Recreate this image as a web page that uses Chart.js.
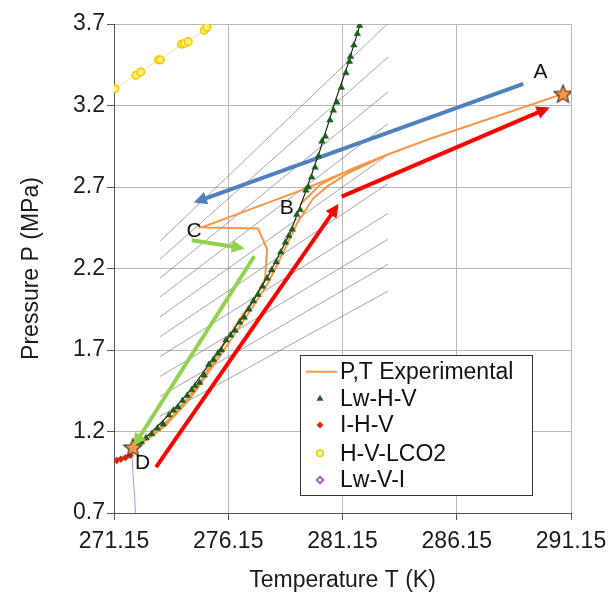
<!DOCTYPE html>
<html>
<head>
<meta charset="utf-8">
<script src="https://cdn.jsdelivr.net/npm/chart.js@4.4.1/dist/chart.umd.min.js"></script>
<style>
html, body { margin: 0; padding: 0; background: #fff; }
</style>
</head>
<body>
<canvas id="mycanvas" width="609" height="594"></canvas>
<script>
// axis ranges
var tMin = 271.15, tMax = 291.15, tStep = 5;
var pMin = 0.7, pMax = 3.7, pStep = 0.5;

// P,T experimental path (cooling A -> C -> D, heating D -> B -> A)
var expT = [290.80, 284.98, 283.10, 279.42, 275.00, 277.45, 277.85, 277.76, 277.45, 276.66, 275.79, 274.91, 274.04, 273.16, 272.51, 271.98,
            272.60, 273.40, 274.48, 275.88, 277.10, 277.89, 278.41, 279.16, 279.86, 280.47, 281.35, 283.10, 284.98, 291.15, null,
            279.29, 280.17, 281.48, 283.10];
var expP = [3.271, 2.996, 2.898, 2.684, 2.452, 2.446, 2.318, 2.134, 2.049, 1.890, 1.695, 1.499, 1.346, 1.218, 1.144, 1.102,
            1.150, 1.235, 1.401, 1.682, 1.939, 2.110, 2.257, 2.476, 2.629, 2.702, 2.782, 2.898, 2.996, 3.288, null,
            2.592, 2.714, 2.806, 2.898];

// Lw-H-V measured points
var lwhvT = [272.10, 272.35, 272.55, 272.80, 273.05, 273.30, 273.55, 273.75, 273.95, 274.15, 274.35, 274.55, 274.70, 274.90,
             275.10, 275.30, 275.50, 275.70, 275.85, 276.05, 276.25, 276.45, 276.65, 276.85, 277.05, 277.25, 277.45, 277.65,
             277.85, 278.05, 278.25, 278.45, 278.65, 278.80, 278.95, 279.15, 279.30, 279.55, 279.65, 279.80, 279.95, 280.10,
             280.25, 280.40, 280.60, 280.75, 280.90, 281.10, 281.30, 281.45, 281.50, 281.65, 281.80, 281.90];
var lwhvP = [1.115, 1.135, 1.160, 1.185, 1.220, 1.245, 1.300, 1.330, 1.350, 1.390, 1.420, 1.455, 1.480, 1.500,
             1.545, 1.610, 1.640, 1.680, 1.700, 1.760, 1.790, 1.820, 1.870, 1.900, 1.950, 2.000, 2.040, 2.090,
             2.140, 2.190, 2.240, 2.300, 2.360, 2.400, 2.440, 2.530, 2.560, 2.680, 2.700, 2.760, 2.820, 2.890,
             2.980, 3.010, 3.110, 3.170, 3.220, 3.310, 3.400, 3.470, 3.500, 3.570, 3.640, 3.690];

// Lw-H-V equilibrium curve
var curveT = [271.98, 272.73, 273.60, 274.48, 275.35, 276.23, 277.10, 277.98, 278.85, 279.51, 280.17, 280.82, 281.39, 281.92];
var curveP = [1.102, 1.187, 1.310, 1.450, 1.621, 1.792, 1.969, 2.177, 2.415, 2.660, 2.928, 3.222, 3.454, 3.698];

// I-H-V
var ihvT = [271.27, 271.45, 271.65, 271.86, 271.98];
var ihvP = [1.022, 1.030, 1.040, 1.053, 1.102];

// H-V-LCO2
var lco2T = [271.19, 272.11, 272.32, 273.09, 273.18, 274.11, 274.23, 274.40, 275.10, 275.21, 275.48];
var lco2P = [3.303, 3.385, 3.405, 3.480, 3.480, 3.576, 3.582, 3.592, 3.662, 3.680, 3.720];

// Lw-V-I
var lwviT = [271.92, 271.98, 272.05, 272.09];
var lwviP = [1.085, 0.950, 0.800, 0.700];

// isochore lines (start / end)
var isoT1 = [273.16, 273.16, 273.16, 273.16, 273.16, 273.16, 273.16, 273.16, 273.16, 273.16];
var isoP1 = [2.367, 2.257, 2.141, 2.025, 1.903, 1.781, 1.659, 1.537, 1.415, 1.293];
var isoT2 = [283.14, 283.14, 283.14, 283.14, 283.14, 283.14, 283.14, 283.14, 283.14, 283.14];
var isoP2 = [3.704, 3.497, 3.283, 3.088, 2.898, 2.721, 2.538, 2.379, 2.226, 2.061];

// arrows [T start, T end], [P start, P end]
var blueT = [289.06, 274.77], blueP = [3.333, 2.611];
var red1T = [272.99, 280.90], red1P = [0.982, 2.580];
var red2T = [281.11, 290.09], red2P = [2.641, 3.181];
var green1T = [274.55, 276.74], green1P = [2.373, 2.326];
var green2T = [277.29, 272.07], green2P = [2.275, 1.123];

// stars A and D
var starT = [290.80, 271.98];
var starP = [3.271, 1.102];

// point labels
var labelText = ['A', 'B', 'C', 'D'];
var labelT = [289.82, 278.71, 274.65, 272.40];
var labelP = [3.402, 2.570, 2.428, 1.004];

var legendNames = ['P,T Experimental', 'Lw-H-V', 'I-H-V', 'H-V-LCO2', 'Lw-V-I'];

function pts(xs, ys) {
    var out = [];
    for (var i = 0; i < xs.length; i++) out.push({ x: xs[i], y: ys[i] });
    return out;
}

function isoPts() {
    var out = [];
    for (var i = 0; i < isoT1.length; i++) {
        out.push({ x: isoT1[i], y: isoP1[i] });
        out.push({ x: isoT2[i], y: isoP2[i] });
        out.push({ x: isoT2[i], y: null });
    }
    return out;
}

// filled five point star used as point style
var starImg = document.createElement('canvas');
starImg.width = 21; starImg.height = 21;
(function () {
    var c = starImg.getContext('2d');
    c.beginPath();
    for (var i = 0; i < 10; i++) {
        var r = i % 2 === 0 ? 9.5 : 4.2;
        var a = -Math.PI / 2 + i * Math.PI / 5;
        var x = 10.5 + r * Math.cos(a), y = 11.2 + r * Math.sin(a);
        if (i === 0) c.moveTo(x, y); else c.lineTo(x, y);
    }
    c.closePath();
    c.fillStyle = '#F79646';
    c.fill();
    c.strokeStyle = '#3a2a1a';
    c.lineWidth = 1.1;
    c.stroke();
})();

function arrowSet(xs, ys, color, width) {
    return {
        data: pts(xs, ys), showLine: true, borderColor: color, borderWidth: width,
        pointRadius: 0, arrow: true, order: 3
    };
}

var arrowHeads = {
    id: 'arrowHeads',
    afterDatasetsDraw: function (chart) {
        var ctx = chart.ctx;
        chart.data.datasets.forEach(function (ds, i) {
            if (!ds.arrow) return;
            var el = chart.getDatasetMeta(i).data;
            var p1 = el[el.length - 2], p2 = el[el.length - 1];
            var ang = Math.atan2(p2.y - p1.y, p2.x - p1.x);
            var cx = Math.cos(ang), sy = Math.sin(ang);
            var tipX = p2.x + 3 * cx, tipY = p2.y + 3 * sy;
            var len = 13, w = 6.5;
            ctx.save();
            ctx.fillStyle = ds.borderColor;
            ctx.beginPath();
            ctx.moveTo(tipX, tipY);
            ctx.lineTo(tipX - len * cx + w * sy, tipY - len * sy - w * cx);
            ctx.lineTo(tipX - len * cx - w * sy, tipY - len * sy + w * cx);
            ctx.closePath();
            ctx.fill();
            ctx.restore();
        });
    }
};

var letters = {
    id: 'letters',
    afterDatasetsDraw: function (chart) {
        var ctx = chart.ctx, xs = chart.scales.x, ys = chart.scales.y;
        ctx.save();
        ctx.font = '21px "Liberation Sans", Arial, sans-serif';
        ctx.fillStyle = '#111';
        ctx.textAlign = 'center';
        ctx.textBaseline = 'middle';
        for (var i = 0; i < labelText.length; i++) {
            ctx.fillText(labelText[i], xs.getPixelForValue(labelT[i]), ys.getPixelForValue(labelP[i]));
        }
        ctx.restore();
    }
};

var boxLegend = {
    id: 'boxLegend',
    afterDraw: function (chart) {
        var ctx = chart.ctx;
        var bx = 300.5, by = 355.5, bw = 232, bh = 140;
        ctx.save();
        ctx.fillStyle = '#fff';
        ctx.fillRect(bx, by, bw, bh);
        ctx.strokeStyle = '#333';
        ctx.lineWidth = 1;
        ctx.strokeRect(bx, by, bw, bh);
        var rows = [371.7, 398.3, 425, 453.3, 480];
        ctx.font = '23px "Liberation Sans", Arial, sans-serif';
        ctx.textBaseline = 'middle';
        ctx.textAlign = 'left';
        for (var i = 0; i < legendNames.length; i++) {
            var y = rows[i];
            ctx.fillStyle = '#111';
            ctx.fillText(legendNames[i], 340, y + 1);
        }
        // markers
        ctx.strokeStyle = '#F79646'; ctx.lineWidth = 2;
        ctx.beginPath(); ctx.moveTo(306, rows[0]); ctx.lineTo(337, rows[0]); ctx.stroke();
        ctx.fillStyle = '#1d5e1d';
        ctx.beginPath(); ctx.moveTo(320, rows[1] - 3.5); ctx.lineTo(323.5, rows[1] + 2.5); ctx.lineTo(316.5, rows[1] + 2.5); ctx.closePath(); ctx.fill();
        ctx.fillStyle = '#d42a10';
        ctx.beginPath(); ctx.moveTo(320, rows[2] - 3.5); ctx.lineTo(323.5, rows[2]); ctx.lineTo(320, rows[2] + 3.5); ctx.lineTo(316.5, rows[2]); ctx.closePath(); ctx.fill();
        ctx.fillStyle = '#fff6b0'; ctx.strokeStyle = '#f2cc00'; ctx.lineWidth = 1.5;
        ctx.beginPath(); ctx.arc(320, rows[3], 3.3, 0, Math.PI * 2); ctx.fill(); ctx.stroke();
        ctx.fillStyle = '#e4d0f4'; ctx.strokeStyle = '#9a4cc8'; ctx.lineWidth = 1.5;
        ctx.beginPath(); ctx.moveTo(320, rows[4] - 3.5); ctx.lineTo(323.5, rows[4]); ctx.lineTo(320, rows[4] + 3.5); ctx.lineTo(316.5, rows[4]); ctx.closePath(); ctx.fill(); ctx.stroke();
        ctx.restore();
    }
};

Chart.defaults.font.family = '"Liberation Sans", Arial, sans-serif';
Chart.defaults.color = '#1a1a1a';

var ctx = document.getElementById('mycanvas');
var mycanvas = new Chart(ctx, {
    type: 'scatter',
    data: {
        datasets: [
            { label: 'starPoints', data: pts(starT, starP), pointStyle: starImg, pointRadius: 10, order: 0 },
            { label: 'Lw-H-V', data: pts(lwhvT, lwhvP), pointStyle: 'triangle', pointRadius: 3.8,
              backgroundColor: '#1d5e1d', borderColor: '#1d5e1d', borderWidth: 0.5, order: 1 },
            { label: 'Lw-H-V curve', data: pts(curveT, curveP), showLine: true, borderColor: '#111', borderWidth: 1.1,
              pointRadius: 0, order: 2 },
            { label: 'I-H-V', data: pts(ihvT, ihvP), showLine: true, borderColor: '#d42a10', borderWidth: 1.2,
              pointStyle: 'rectRot', pointRadius: [2.8, 2.8, 2.8, 2.8, 0], backgroundColor: '#d42a10', order: 2 },
            { label: 'Lw-V-I', data: pts(lwviT, lwviP), showLine: true, borderColor: '#b48ee6', borderWidth: 1,
              pointStyle: 'rectRot', pointRadius: [2.6, 0, 0, 0], backgroundColor: '#e4d0f4',
              pointBorderColor: '#9a4cc8', order: 2 },
            { label: 'P,T Experimental', data: pts(expT, expP), showLine: true, spanGaps: false,
              borderColor: '#F79646', borderWidth: 2, pointRadius: 0, order: 4 },
            arrowSet(blueT, blueP, '#4F81BD', 4),
            arrowSet(red1T, red1P, '#FF0000', 4),
            arrowSet(red2T, red2P, '#FF0000', 4),
            arrowSet(green1T, green1P, '#92D050', 4),
            arrowSet(green2T, green2P, '#92D050', 4),
            { label: 'H-V-LCO2', data: pts(lco2T, lco2P), showLine: true, borderColor: '#f9dca0', borderWidth: 1,
              pointRadius: [3.8, 3.8, 3.8, 3.8, 3.8, 3.8, 3.8, 3.8, 3.8, 3.8, 0], backgroundColor: '#ffee70',
              pointBorderColor: '#f2c800', pointBorderWidth: 1.5, order: 5 },
            { label: 'isochores', data: isoPts(), showLine: true, spanGaps: false, borderColor: '#666',
              borderWidth: 0.6, pointRadius: 0, order: 6 }
        ]
    },
    options: {
        responsive: false,
        animation: false,
        events: [],
        layout: { padding: { top: 24, right: 38, left: 0, bottom: 0 } },
        plugins: { legend: { display: false }, tooltip: { enabled: false } },
        scales: {
            x: {
                type: 'linear', min: tMin, max: tMax,
                ticks: { stepSize: tStep, autoSkip: false, maxRotation: 0, padding: 8,
                         font: { size: 23 }, callback: function (v) { return v.toFixed(2); } },
                grid: { color: '#b8b8b8', tickColor: '#555', tickLength: 7 },
                border: { color: '#555' },
                title: { display: true, text: 'Temperature T (K)', font: { size: 23 }, padding: { top: 4, bottom: 0 } },
                afterFit: function (s) { s.height = 81; s.paddingLeft = 0; s.paddingRight = 0; }
            },
            y: {
                type: 'linear', min: pMin, max: pMax,
                ticks: { stepSize: pStep, padding: 2, font: { size: 23 },
                         callback: function (v) { return v.toFixed(1); } },
                grid: { color: '#b8b8b8', tickColor: '#555', tickLength: 7 },
                border: { color: '#555' },
                title: { display: true, text: 'Pressure P (MPa)', font: { size: 23 }, padding: { top: 18, bottom: 0 } },
                afterFit: function (s) { s.width = 114; s.paddingTop = 0; s.paddingBottom = 0; }
            }
        }
    },
    plugins: [arrowHeads, letters, boxLegend]
});
</script>
</body>
</html>
